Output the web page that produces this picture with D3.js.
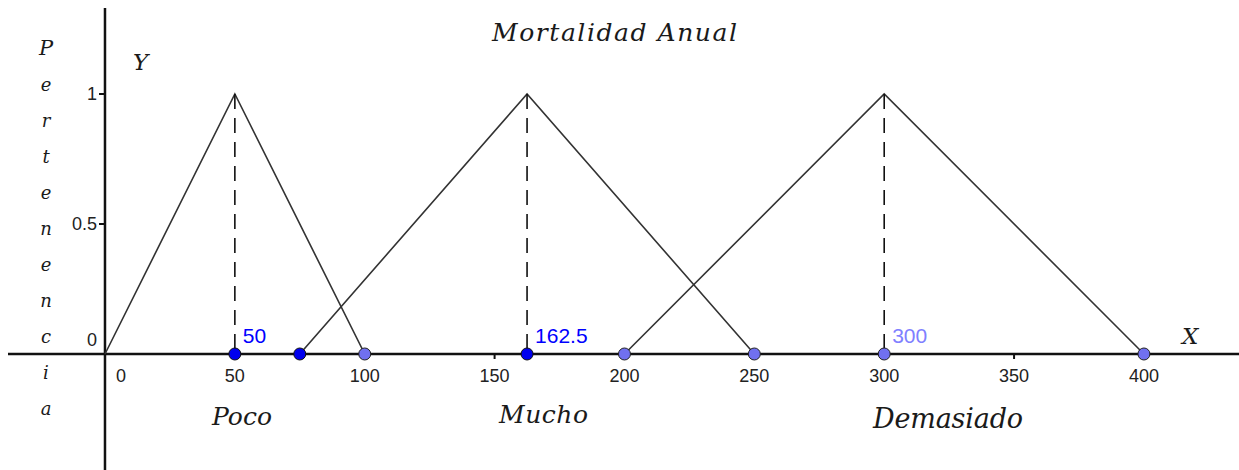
<!DOCTYPE html>
<html>
<head>
<meta charset="utf-8">
<script src="https://cdn.jsdelivr.net/npm/d3@7"></script>
<style>
  body { margin: 0; background: #fff; }
  .tick-label { font-family: "Liberation Sans", Arial, sans-serif; font-size: 18px; fill: #222; }
  .serif { font-family: "DejaVu Serif", serif; font-style: italic; fill: #1a1a1a; }
</style>
</head>
<body>
<div id="chart"></div>
<script>
// fuzzy sets: left foot, peak, right foot
const setNames = ["Poco", "Mucho", "Demasiado"];
const leftFoot = [0, 75, 200];
const peakX = [50, 162.5, 300];
const rightFoot = [100, 250, 400];

// points on the x axis
const darkPoints = [50, 75, 162.5];
const lightPoints = [100, 200, 250, 300, 400];
const peakLabels = ["50", "162.5", "300"];

const xTicks = [0, 50, 100, 150, 200, 250, 300, 350, 400];
const yTicks = [0, 0.5, 1];
const yLetters = "Pertenencia".split("");

const width = 1239, height = 470;

const svg = d3.select("#chart")
  .append("svg")
  .attr("width", width)
  .attr("height", height);

// visible window of the graphics view
const xScale = d3.scaleLinear().domain([-40.42, 436.6]).range([0, width]);
const yScale = d3.scaleLinear().domain([-0.4462, 1.3615]).range([height, 0]);

const x0 = xScale(0), y0 = yScale(0);

// axes
svg.append("line")
  .attr("x1", 8).attr("x2", width)
  .attr("y1", y0).attr("y2", y0)
  .attr("stroke", "#111").attr("stroke-width", 2.5);

svg.append("line")
  .attr("x1", x0).attr("x2", x0)
  .attr("y1", 8).attr("y2", height)
  .attr("stroke", "#111").attr("stroke-width", 2.5);

// x ticks
svg.selectAll(".xtick")
  .data(xTicks.filter(d => d !== 0))
  .join("line")
  .attr("x1", d => xScale(d)).attr("x2", d => xScale(d))
  .attr("y1", y0).attr("y2", y0 + 5)
  .attr("stroke", "#111").attr("stroke-width", 2);

svg.selectAll(".xlabel")
  .data(xTicks)
  .join("text")
  .attr("class", "tick-label")
  .attr("x", d => d === 0 ? xScale(d) + 16 : xScale(d))
  .attr("y", y0 + 28)
  .attr("text-anchor", "middle")
  .text(d => d);

// y ticks
svg.selectAll(".ytick")
  .data(yTicks.filter(d => d !== 0))
  .join("line")
  .attr("x1", x0 - 6).attr("x2", x0)
  .attr("y1", d => yScale(d)).attr("y2", d => yScale(d))
  .attr("stroke", "#111").attr("stroke-width", 2);

svg.selectAll(".ylabel")
  .data(yTicks)
  .join("text")
  .attr("class", "tick-label")
  .attr("x", x0 - 8)
  .attr("y", d => d === 0 ? y0 - 8 : yScale(d) + 6)
  .attr("text-anchor", "end")
  .text(d => d);

// triangles
const tri = d3.line().x(d => xScale(d[0])).y(d => yScale(d[1]));
setNames.forEach((name, i) => {
  svg.append("path")
    .attr("d", tri([[leftFoot[i], 0], [peakX[i], 1], [rightFoot[i], 0]]))
    .attr("fill", "none")
    .attr("stroke", "#333")
    .attr("stroke-width", 1.6);

  svg.append("line")
    .attr("x1", xScale(peakX[i])).attr("x2", xScale(peakX[i]))
    .attr("y1", yScale(1)).attr("y2", y0)
    .attr("stroke", "#111")
    .attr("stroke-width", 1.6)
    .attr("stroke-dasharray", "15,9");
});

// set names under the axis (placed as in the original view)
const nameX = [212, 499, 873];
const nameY = [425, 423, 428];
const nameLen = [60, 89, 150];
const nameSize = [25, 25, 27];
svg.selectAll(".setname")
  .data(setNames)
  .join("text")
  .attr("class", "serif")
  .attr("font-size", (d, i) => nameSize[i])
  .attr("x", (d, i) => nameX[i])
  .attr("y", (d, i) => nameY[i])
  .attr("textLength", (d, i) => nameLen[i])
  .text(d => d);

// points
svg.selectAll(".lightpt")
  .data(lightPoints)
  .join("circle")
  .attr("cx", d => xScale(d)).attr("cy", y0)
  .attr("r", 6)
  .attr("fill", "#7070f0")
  .attr("stroke", "#222").attr("stroke-width", 1);

svg.selectAll(".darkpt")
  .data(darkPoints)
  .join("circle")
  .attr("cx", d => xScale(d)).attr("cy", y0)
  .attr("r", 6)
  .attr("fill", "#0000ee")
  .attr("stroke", "#111").attr("stroke-width", 1);

// peak value labels
svg.selectAll(".peaklabel")
  .data(peakLabels)
  .join("text")
  .attr("font-family", "Liberation Sans, Arial, sans-serif")
  .attr("font-size", 21)
  .attr("fill", (d, i) => i === 2 ? "#8080ff" : "#0000ff")
  .attr("x", (d, i) => xScale(peakX[i]) + 8)
  .attr("y", y0 - 11)
  .text(d => d);

// title and axis names
svg.append("text")
  .attr("class", "serif")
  .attr("font-size", 25)
  .attr("x", 492).attr("y", 41)
  .attr("textLength", 245)
  .text("Mortalidad  Anual");

svg.append("text")
  .attr("class", "serif")
  .attr("font-size", 23)
  .attr("x", 133).attr("y", 70)
  .text("Y");

svg.append("text")
  .attr("class", "serif")
  .attr("font-size", 23)
  .attr("x", 1182).attr("y", 344)
  .text("X");

// vertical "Pertenencia"
svg.selectAll(".vletter")
  .data(yLetters)
  .join("text")
  .attr("class", "serif")
  .attr("font-size", d => d === "P" ? 21 : 18)
  .attr("text-anchor", "middle")
  .attr("x", 46)
  .attr("y", (d, i) => 55 + i * 36)
  .text(d => d);
</script>
</body>
</html>
